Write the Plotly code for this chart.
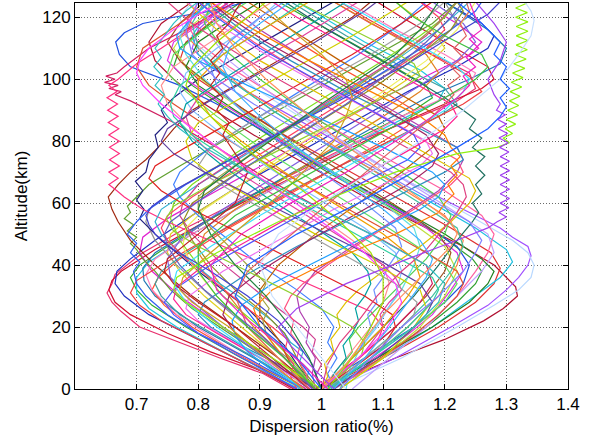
import plotly.graph_objects as go

# Each profile: list of [altitude_km, dispersion_ratio] knots
LEFT_FIRST = [
    [[0,.95],[5,.905],[10,.835],[15,.77],[20,.705],[25,.675],[28,.66],[31,.652],[34,.66],[37,.665],[41,.69],[44,.71],[52,.78],[60,.86],[70,.96],[80,1.06],[88,1.16],[93,1.22],[97,1.25],[102,1.24],[110,1.16],[118,1.08],[125,1.02]],
    [[0,.955],[6,.9],[12,.82],[18,.75],[24,.69],[28,.665],[32,.655],[35,.66],[38,.675],[45,.73],[55,.82],[65,.92],[75,1.02],[85,1.12],[92,1.2],[97,1.26],[100,1.28],[104,1.27],[112,1.2],[120,1.13],[125,1.09]],
    [[0,.96],[8,.88],[16,.8],[24,.72],[30,.68],[34,.665],[38,.668],[42,.69],[48,.73],[56,.79],[66,.87],[76,.96],[86,1.05],[96,1.14],[104,1.22],[110,1.27],[114,1.28],[118,1.26],[125,1.2]],
    [[0,.97],[10,.87],[20,.78],[27,.725],[32,.7],[36,.69],[40,.705],[46,.75],[56,.83],[66,.92],[76,1.01],[84,1.09],[90,1.15],[94,1.18],[98,1.17],[106,1.1],[116,1.01],[125,.93]],
    [[0,.965],[10,.86],[20,.765],[26,.72],[31,.7],[36,.7],[41,.72],[50,.79],[60,.88],[70,.97],[80,1.06],[88,1.14],[93,1.19],[97,1.2],[103,1.16],[112,1.07],[125,.96]],
    [[0,.975],[10,.89],[20,.8],[30,.73],[35,.712],[39,.71],[44,.73],[54,.81],[64,.9],[74,.99],[84,1.08],[94,1.17],[100,1.24],[105,1.29],[110,1.3],[116,1.27],[125,1.2]],
    [[0,.97],[10,.875],[20,.79],[27,.745],[32,.725],[36,.735],[42,.77],[52,.85],[62,.94],[72,1.03],[80,1.1],[85,1.14],[90,1.15],[96,1.1],[106,1.01],[116,.93],[125,.86]],
    [[0,.98],[10,.92],[20,.84],[30,.77],[38,.725],[44,.705],[49,.71],[55,.75],[64,.83],[74,.92],[84,1.01],[94,1.1],[102,1.18],[108,1.24],[112,1.26],[118,1.22],[125,1.16]],
    [[0,.98],[10,.91],[18,.85],[26,.79],[32,.755],[38,.73],[42,.71],[45,.7],[47,.69],[49,.7],[51,.685],[53,.695],[55,.68],[57,.69],[59,.685],[62,.7],[66,.72],[72,.77],[80,.84],[90,.93],[100,1.02],[110,1.11],[118,1.18],[125,1.22]],
    [[0,.985],[10,.93],[20,.87],[30,.81],[38,.77],[44,.75],[50,.755],[56,.79],[66,.87],[76,.95],[86,1.03],[96,1.11],[104,1.17],[110,1.2],[116,1.18],[125,1.12]],
    [[0,.99],[10,.93],[20,.86],[30,.79],[40,.73],[48,.69],[54,.67],[58,.66],[62,.654],[66,.67],[70,.69],[74,.715],[78,.735],[84,.76],[90,.79],[98,.86],[106,.93],[114,1.0],[120,1.05],[125,1.08]],
    [[0,.99],[10,.945],[20,.88],[30,.82],[40,.765],[48,.73],[54,.715],[58,.72],[64,.76],[74,.85],[84,.94],[94,1.03],[104,1.12],[112,1.19],[118,1.22],[125,1.2]],
    [[0,.97],[12,.86],[24,.765],[32,.725],[37,.715],[42,.73],[50,.79],[60,.88],[70,.97],[80,1.06],[88,1.13],[94,1.2],[98,1.24],[102,1.25],[108,1.2],[116,1.12],[125,1.04]],
    [[0,.99],[8,.96],[14,.94],[20,.91],[26,.88],[32,.84],[38,.8],[44,.765],[48,.74],[52,.72],[55,.705],[58,.712],[61,.7],[64,.71],[67,.698],[70,.715],[74,.72],[78,.735],[82,.73],[86,.75],[90,.74],[94,.76],[100,.8],[108,.87],[116,.94],[125,1.02]],
    [[0,.99],[10,.95],[20,.9],[30,.84],[40,.8],[48,.77],[55,.755],[60,.76],[66,.79],[76,.86],[86,.94],[96,1.02],[106,1.1],[114,1.16],[120,1.2],[125,1.22]],
    [[0,.975],[8,.91],[16,.84],[24,.77],[30,.74],[34,.73],[38,.74],[44,.78],[54,.86],[64,.95],[74,1.05],[82,1.13],[88,1.19],[92,1.22],[97,1.2],[104,1.13],[114,1.04],[125,.95]],
    [[0,.96],[8,.88],[16,.8],[22,.74],[27,.705],[31,.69],[35,.7],[40,.74],[48,.81],[58,.9],[68,.99],[78,1.09],[86,1.17],[92,1.23],[96,1.26],[101,1.24],[110,1.16],[120,1.07],[125,1.03]],
    [[0,.98],[10,.91],[20,.84],[30,.78],[36,.755],[42,.75],[48,.77],[58,.84],[68,.92],[78,1.0],[88,1.08],[98,1.16],[106,1.22],[112,1.25],[118,1.23],[125,1.18]],
    [[0,.985],[10,.94],[20,.89],[30,.85],[38,.82],[44,.8],[50,.81],[58,.86],[68,.94],[78,1.02],[88,1.1],[96,1.16],[102,1.19],[108,1.17],[116,1.1],[125,1.02]],
    [[0,.97],[10,.88],[18,.8],[24,.75],[30,.715],[34,.7],[38,.695],[41,.705],[44,.69],[47,.7],[50,.685],[54,.7],[58,.72],[66,.78],[76,.87],[86,.96],[96,1.05],[106,1.13],[116,1.21],[122,1.25],[125,1.26]],
]
LEFT_COLORS = ["#e8306e","#d01030","#2030c0","#30b030","#20c8e0","#1f77b4","#ff5030","#e020d0","#60a030","#e0d020",
               "#a02810","#909090","#ff80c0","#202080","#80e020","#40a0a0","#f04040","#8060e0","#e08020","#3060f0"]

RIGHT_FIRST = [
    [[0,1.0],[5,1.06],[10,1.12],[16,1.2],[22,1.263],[26,1.295],[30,1.318],[33,1.315],[36,1.3],[40,1.28],[46,1.23],[54,1.15],[62,1.07],[72,.98],[82,.89],[92,.81],[100,.76],[106,.73],[112,.72],[118,.74],[125,.79]],
    [[0,1.01],[10,1.12],[20,1.21],[27,1.27],[32,1.3],[36,1.32],[40,1.335],[43,1.34],[46,1.335],[49,1.31],[52,1.29],[58,1.23],[66,1.15],[76,1.06],[86,.97],[96,.88],[104,.82],[110,.79],[116,.8],[125,.85]],
    [[0,1.02],[10,1.13],[20,1.22],[27,1.28],[32,1.32],[36,1.34],[40,1.345],[44,1.335],[48,1.31],[56,1.24],[66,1.15],[76,1.06],[86,.98],[96,.9],[106,.83],[114,.78],[120,.77],[125,.79]],
    [[0,1.0],[10,1.1],[20,1.19],[28,1.25],[34,1.28],[39,1.29],[44,1.275],[52,1.21],[62,1.12],[72,1.03],[82,.94],[92,.86],[100,.8],[106,.77],[112,.78],[120,.83],[125,.86]],
    [[0,1.0],[10,1.09],[20,1.17],[28,1.22],[34,1.25],[38,1.26],[42,1.245],[50,1.19],[60,1.1],[70,1.01],[80,.93],[90,.85],[98,.79],[104,.76],[110,.77],[118,.82],[125,.87]],
    [[0,1.01],[10,1.1],[20,1.18],[30,1.25],[36,1.29],[41,1.31],[45,1.3],[52,1.25],[60,1.18],[70,1.09],[80,1.0],[90,.92],[100,.85],[108,.8],[114,.79],[120,.81],[125,.84]],
    [[0,.99],[10,1.07],[20,1.15],[28,1.2],[34,1.23],[40,1.24],[46,1.22],[54,1.16],[64,1.07],[74,.98],[84,.9],[92,.83],[98,.77],[104,.69],[108,.672],[112,.666],[115,.68],[118,.71],[120,.76],[122,.82],[125,.88]],
    [[0,1.0],[8,1.07],[16,1.13],[24,1.18],[32,1.21],[38,1.23],[44,1.22],[52,1.17],[62,1.09],[72,1.0],[82,.92],[92,.84],[100,.78],[106,.75],[112,.76],[120,.82],[125,.86]],
    [[0,1.02],[10,1.1],[20,1.17],[30,1.22],[38,1.25],[44,1.27],[50,1.28],[56,1.26],[64,1.2],[74,1.11],[84,1.02],[94,.93],[104,.85],[112,.8],[118,.78],[125,.8]],
    [[0,1.01],[10,1.08],[20,1.14],[30,1.19],[40,1.22],[48,1.23],[56,1.2],[66,1.12],[76,1.04],[86,.96],[96,.88],[106,.82],[114,.78],[120,.79],[125,.82]],
    [[0,1.0],[10,1.05],[20,1.1],[30,1.15],[40,1.19],[48,1.22],[54,1.245],[57,1.255],[60,1.245],[63,1.26],[66,1.25],[69,1.265],[72,1.25],[75,1.265],[78,1.245],[81,1.26],[84,1.24],[87,1.25],[90,1.23],[94,1.2],[100,1.15],[108,1.08],[116,1.01],[125,.94]],
    [[0,1.03],[10,1.1],[20,1.16],[30,1.2],[38,1.22],[46,1.2],[56,1.13],[66,1.05],[76,.97],[86,.9],[96,.83],[104,.78],[110,.76],[116,.78],[125,.84]],
    [[0,1.0],[10,1.06],[20,1.12],[30,1.17],[38,1.2],[44,1.21],[50,1.19],[58,1.13],[68,1.05],[78,.97],[88,.89],[98,.82],[106,.77],[112,.75],[118,.77],[125,.81]],
    [[0,1.05],[10,1.11],[20,1.17],[30,1.22],[38,1.26],[44,1.28],[50,1.27],[58,1.21],[68,1.13],[78,1.05],[88,.97],[98,.9],[106,.85],[114,.82],[120,.83],[125,.86]],
    [[0,1.01],[10,1.08],[20,1.15],[28,1.2],[34,1.22],[40,1.2],[48,1.14],[58,1.06],[68,.98],[78,.9],[88,.83],[96,.78],[102,.75],[108,.76],[116,.81],[125,.88]],
    [[0,1.0],[10,1.09],[20,1.18],[28,1.24],[34,1.27],[38,1.28],[42,1.26],[50,1.2],[60,1.11],[70,1.02],[80,.94],[90,.86],[98,.8],[104,.78],[112,.8],[120,.86],[125,.9]],
    [[0,.99],[10,1.06],[20,1.12],[28,1.16],[34,1.18],[40,1.17],[48,1.1],[58,1.0],[68,.91],[78,.83],[86,.76],[90,.72],[93,.69],[95,.665],[96,.675],[97,.655],[98,.67],[99,.648],[100,.665],[101,.65],[102,.668],[104,.68],[107,.7],[110,.72],[116,.78],[125,.86]],
    [[0,1.0],[8,1.05],[15,1.09],[20,1.1],[25,1.08],[32,1.0],[40,.91],[48,.82],[54,.75],[58,.71],[62,.68],[64,.668],[66,.655],[68,.67],[70,.655],[72,.672],[74,.656],[76,.672],[78,.656],[80,.672],[82,.655],[84,.671],[86,.654],[88,.67],[90,.653],[92,.669],[94,.652],[96,.668],[98,.655],[100,.67],[105,.7],[110,.74],[118,.8],[125,.85]],
    [[0,1.02],[8,1.08],[16,1.14],[24,1.19],[30,1.22],[34,1.23],[38,1.22],[44,1.17],[54,1.08],[64,.99],[74,.9],[84,.82],[92,.76],[98,.72],[104,.7],[110,.71],[118,.77],[125,.82]],
    [[0,1.01],[10,1.07],[20,1.13],[30,1.18],[38,1.21],[46,1.23],[52,1.22],[60,1.16],[70,1.08],[80,1.0],[90,.92],[100,.85],[110,.8],[118,.79],[125,.81]],
]
RIGHT_COLORS = ["#b01030","#a050ff","#b8d8ff","#e03030","#30a030","#20c0e0","#2050e0","#e030e0","#ff60a0","#ff8040",
                "#207060","#c0e040","#a05020","#c0a0ff","#60e060","#208020","#d02060","#ff3080","#e05030","#40c0a0"]

LATE_RIGHT = [
    [[0,1.0],[10,.92],[20,.84],[28,.78],[32,.76],[36,.765],[44,.83],[54,.93],[62,1.02],[70,1.12],[76,1.22],[78,1.285],[79.5,1.305],[81,1.295],[82.5,1.31],[84,1.298],[85.5,1.315],[87,1.3],[88.5,1.318],[90,1.302],[91.5,1.32],[93,1.305],[94.5,1.322],[96,1.306],[97.5,1.325],[99,1.308],[100.5,1.327],[102,1.31],[103.5,1.33],[105,1.312],[106.5,1.332],[108,1.314],[109.5,1.334],[111,1.316],[112.5,1.335],[114,1.316],[115.5,1.335],[117,1.316],[118.5,1.335],[120,1.315],[121.5,1.334],[123,1.315],[124.5,1.333],[126,1.315]],
    [[0,1.02],[8,.98],[14,.95],[20,.93],[26,.96],[34,1.04],[42,1.14],[48,1.22],[52,1.27],[54,1.285],[55.5,1.3],[57,1.288],[58.5,1.304],[60,1.29],[61.5,1.305],[63,1.29],[64.5,1.305],[66,1.29],[67.5,1.305],[69,1.29],[70.5,1.305],[72,1.29],[73.5,1.305],[75,1.29],[76.5,1.304],[78,1.289],[79.5,1.303],[81,1.288],[82.5,1.302],[84,1.287],[85.5,1.3],[87,1.286],[88.5,1.298],[90,1.284],[92,1.29],[95,1.28],[100,1.27],[106,1.29],[112,1.3],[118,1.28],[125,1.25]],
    [[0,1.04],[10,1.0],[20,.96],[30,.92],[40,.9],[50,.93],[60,1.0],[70,1.08],[80,1.16],[90,1.23],[100,1.29],[108,1.32],[114,1.34],[119,1.345],[122,1.34],[125,1.33]],
    [[0,1.0],[10,.96],[20,.9],[30,.86],[40,.88],[50,.96],[60,1.06],[70,1.15],[78,1.22],[84,1.27],[88,1.29],[91,1.3],[94,1.29],[97,1.305],[100,1.29],[104,1.3],[108,1.28],[112,1.29],[116,1.27],[120,1.25],[125,1.22]],
    [[0,1.01],[8,.97],[16,.92],[24,.87],[32,.83],[40,.82],[50,.87],[60,.95],[70,1.04],[80,1.12],[88,1.18],[94,1.22],[98,1.24],[101,1.23],[104,1.25],[107,1.235],[110,1.255],[113,1.24],[116,1.26],[120,1.25],[125,1.24]],
    [[0,.99],[10,.94],[20,.88],[30,.83],[38,.8],[46,.8],[56,.86],[66,.95],[76,1.04],[86,1.13],[94,1.2],[100,1.25],[104,1.27],[108,1.26],[114,1.2],[120,1.15],[125,1.12]],
]
LATE_COLORS = ["#90f010","#a040f0","#c8e0ff","#2060ff","#f020c0","#40c040"]

CENTER = [
    [[0,.985],[3,.975],[6,.98],[9,.965],[12,.97],[15,.95],[18,.94],[22,.92],[28,.88],[36,.82],[44,.77],[50,.74],[54,.73],[58,.74],[66,.8],[76,.88],[86,.96],[96,1.04],[106,1.12],[116,1.19],[125,1.24]],
    [[0,1.0],[4,.99],[8,1.0],[12,.985],[16,.99],[20,.97],[26,.93],[34,.88],[42,.83],[50,.79],[56,.77],[60,.775],[66,.8],[74,.86],[84,.94],[94,1.02],[104,1.1],[114,1.17],[125,1.22]],
    [[0,1.03],[4,1.04],[8,1.035],[12,1.05],[16,1.045],[20,1.06],[26,1.09],[34,1.13],[42,1.17],[50,1.2],[56,1.21],[62,1.19],[70,1.13],[80,1.05],[90,.97],[100,.9],[110,.84],[118,.81],[125,.82]],
    [[0,.97],[10,.93],[20,.88],[30,.83],[40,.79],[46,.775],[52,.78],[58,.81],[66,.87],[76,.94],[86,1.02],[96,1.1],[106,1.17],[116,1.22],[125,1.25]],
    [[0,1.02],[5,1.01],[10,1.025],[15,1.01],[20,1.02],[26,1.0],[32,.96],[40,.9],[48,.85],[56,.8],[62,.77],[66,.76],[70,.77],[78,.82],[88,.9],[98,.98],[108,1.06],[118,1.13],[125,1.17]],
    [[0,1.0],[10,1.04],[20,1.08],[28,1.1],[34,1.11],[40,1.1],[48,1.05],[58,.98],[68,.9],[78,.83],[86,.78],[92,.75],[98,.74],[104,.76],[112,.82],[120,.88],[125,.92]],
    [[0,.995],[6,.97],[12,.955],[18,.94],[24,.91],[32,.86],[40,.82],[48,.79],[54,.775],[60,.79],[68,.85],[78,.93],[88,1.01],[98,1.09],[108,1.16],[116,1.21],[122,1.23],[125,1.22]],
    [[0,1.04],[6,1.045],[12,1.06],[18,1.08],[24,1.1],[32,1.13],[40,1.15],[46,1.16],[52,1.15],[60,1.1],[70,1.02],[80,.94],[90,.87],[100,.81],[108,.78],[114,.77],[120,.79],[125,.82]],
    [[0,.99],[5,.985],[10,.99],[15,.975],[20,.98],[25,.965],[30,.96],[38,.99],[46,1.05],[56,1.13],[64,1.19],[70,1.22],[74,1.23],[78,1.22],[86,1.15],[96,1.06],[106,.98],[116,.9],[125,.84]],
    [[0,.96],[4,.95],[8,.955],[12,.94],[16,.945],[20,.92],[26,.88],[34,.83],[42,.78],[48,.75],[52,.74],[56,.75],[62,.79],[72,.87],[82,.95],[92,1.03],[102,1.11],[110,1.17],[116,1.2],[120,1.19],[125,1.16]],
    [[0,1.005],[10,1.05],[20,1.09],[30,1.12],[38,1.13],[44,1.12],[52,1.07],[62,.99],[72,.91],[82,.84],[90,.79],[96,.77],[102,.78],[110,.83],[118,.89],[125,.93]],
    [[0,.98],[8,.95],[16,.93],[24,.9],[32,.9],[40,.93],[50,.99],[60,1.06],[70,1.13],[78,1.18],[84,1.2],[88,1.19],[96,1.12],[106,1.03],[116,.95],[125,.88]],
    [[0,1.0],[4,1.01],[8,1.005],[12,1.02],[16,1.015],[20,1.03],[24,1.025],[28,1.04],[32,1.06],[38,1.1],[46,1.16],[54,1.21],[60,1.24],[64,1.25],[68,1.24],[76,1.17],[86,1.08],[96,.99],[106,.9],[116,.83],[125,.78]],
    [[0,1.01],[5,1.02],[10,1.04],[14,1.035],[18,1.05],[22,1.06],[26,1.055],[30,1.07],[34,1.08],[38,1.075],[44,1.05],[52,.99],[62,.91],[72,.84],[80,.79],[86,.77],[92,.78],[100,.84],[110,.92],[120,1.0],[125,1.04]],
    [[0,.98],[5,.975],[10,.96],[14,.965],[18,.95],[22,.955],[26,.94],[30,.95],[34,.97],[40,1.01],[48,1.07],[58,1.15],[66,1.21],[70,1.23],[74,1.22],[82,1.15],[92,1.06],[102,.97],[112,.89],[125,.8]],
    [[0,1.0],[6,1.03],[12,1.06],[16,1.07],[20,1.08],[24,1.075],[28,1.09],[32,1.085],[36,1.1],[40,1.11],[46,1.13],[52,1.12],[60,1.07],[70,1.0],[80,.93],[90,.87],[98,.83],[104,.82],[112,.85],[120,.9],[125,.94]],
    [[0,.99],[6,.96],[12,.93],[18,.91],[22,.905],[26,.915],[30,.9],[34,.91],[38,.89],[44,.86],[52,.82],[58,.8],[62,.8],[68,.83],[78,.9],[88,.98],[98,1.06],[108,1.13],[118,1.19],[125,1.22]],
    [[0,1.02],[4,1.03],[8,1.05],[12,1.07],[16,1.085],[20,1.1],[24,1.095],[28,1.11],[32,1.13],[36,1.12],[40,1.1],[48,1.04],[58,.96],[68,.88],[76,.82],[82,.79],[88,.78],[94,.8],[104,.88],[114,.97],[125,1.06]],
]
CENTER_COLORS = ["#30b0d0","#d04090","#50d050","#f0f060","#4080ff","#ff9090","#909020","#60e0e0","#b040b0","#ff4060","#80c0ff","#c06000",
                 "#e0c000","#00a0a0","#ff5080","#7090ff","#a0a040","#e040a0"]

EARLY_TURN = [
    [[0,1.0],[8,1.06],[14,1.1],[20,1.12],[24,1.115],[30,1.07],[40,.97],[50,.87],[58,.79],[64,.74],[68,.72],[72,.73],[78,.78],[88,.87],[98,.96],[108,1.05],[118,1.13],[125,1.18]],
    [[0,.99],[8,.93],[14,.87],[20,.82],[24,.8],[28,.81],[36,.87],[46,.96],[56,1.06],[64,1.14],[70,1.2],[74,1.23],[78,1.22],[86,1.14],[96,1.04],[106,.95],[116,.87],[125,.81]],
    [[0,.985],[8,.92],[16,.85],[22,.8],[26,.78],[30,.785],[38,.84],[48,.93],[58,1.02],[66,1.1],[72,1.16],[76,1.18],[80,1.17],[88,1.1],[98,1.0],[108,.91],[118,.83],[125,.78]],
    [[0,1.01],[10,1.07],[18,1.12],[24,1.15],[28,1.155],[34,1.12],[44,1.03],[54,.94],[62,.87],[68,.82],[72,.8],[78,.82],[88,.9],[98,.99],[108,1.08],[118,1.16],[125,1.2]],
    [[0,1.03],[10,1.1],[20,1.15],[26,1.17],[32,1.16],[40,1.09],[50,.99],[60,.9],[68,.83],[74,.79],[80,.78],[86,.8],[94,.87],[104,.96],[114,1.05],[125,1.14]],
    [[0,.96],[10,.87],[18,.8],[24,.76],[28,.745],[32,.76],[40,.82],[50,.91],[60,1.0],[68,1.08],[74,1.14],[78,1.16],[82,1.15],[90,1.08],[100,.99],[110,.9],[120,.83],[125,.8]],
    [[0,.975],[10,.9],[18,.83],[24,.78],[29,.76],[33,.765],[40,.81],[50,.9],[60,.99],[70,1.08],[78,1.15],[84,1.2],[88,1.22],[92,1.21],[100,1.14],[110,1.05],[120,.96],[125,.92]],
    [[0,1.015],[10,1.08],[20,1.14],[28,1.18],[32,1.19],[36,1.18],[44,1.11],[54,1.02],[64,.93],[74,.85],[82,.79],[88,.76],[92,.755],[98,.77],[108,.84],[118,.92],[125,.97]],
    [[0,.99],[6,.94],[12,.9],[18,.86],[24,.84],[30,.85],[38,.9],[48,.98],[58,1.07],[66,1.14],[72,1.18],[76,1.19],[82,1.17],[92,1.09],[102,1.0],[112,.91],[120,.85],[125,.82]],
    [[0,1.02],[10,1.09],[18,1.14],[24,1.17],[28,1.18],[34,1.16],[42,1.09],[52,.99],[62,.89],[70,.81],[76,.76],[80,.74],[84,.75],[92,.81],[102,.9],[112,.99],[122,1.07],[125,1.09]],
    [[0,.97],[10,.9],[20,.83],[28,.78],[34,.76],[38,.765],[46,.82],[56,.9],[66,.99],[76,1.08],[84,1.15],[90,1.2],[96,1.23],[100,1.24],[104,1.22],[112,1.15],[122,1.06],[125,1.03]],
    [[0,1.0],[10,1.05],[20,1.1],[30,1.14],[36,1.16],[42,1.15],[50,1.1],[60,1.02],[70,.94],[80,.87],[88,.82],[94,.8],[100,.8],[108,.84],[118,.92],[125,.98]],
]
EARLY_COLORS = ["#e02020","#3090c0","#f070f0","#a0a0a0","#d0d000","#5050ff","#ff2090","#30d0a0","#a02060","#6040a0","#40e0ff","#f0a000"]

MIXED = [
    [[0,1.0],[8,.985],[15,.96],[22,.93],[30,.88],[38,.82],[45,.76],[50,.73],[53,.72],[56,.715],[59,.725],[64,.76],[75,.86],[90,1.0],[105,1.14],[115,1.22],[121,1.27],[125,1.29]],
    [[0,1.0],[8,1.01],[15,1.03],[22,1.06],[30,1.09],[38,1.13],[45,1.17],[52,1.2],[57,1.22],[62,1.235],[66,1.23],[70,1.21],[80,1.12],[90,1.02],[100,.93],[110,.85],[118,.79],[125,.75]],
    [[0,.97],[6,.92],[12,.88],[17,.86],[22,.855],[27,.87],[34,.92],[44,1.02],[52,1.1],[58,1.16],[62,1.19],[66,1.2],[70,1.18],[78,1.1],[88,.99],[98,.88],[106,.8],[110,.77],[114,.765],[120,.79],[125,.82]],
    [[0,1.0],[6,1.04],[11,1.065],[15,1.07],[20,1.05],[28,.98],[38,.88],[46,.8],[51,.76],[55,.748],[59,.76],[66,.82],[78,.94],[90,1.06],[97,1.13],[101,1.16],[105,1.15],[112,1.09],[120,1.01],[125,.96]],
    [[0,.98],[10,.92],[20,.86],[28,.8],[34,.76],[38,.745],[42,.75],[50,.8],[60,.86],[70,.88],[76,.86],[82,.84],[86,.85],[90,.83],[94,.84],[98,.82],[102,.835],[106,.82],[110,.84],[114,.83],[118,.85],[122,.86],[125,.87]],
    [[0,1.01],[10,1.08],[20,1.15],[28,1.19],[34,1.2],[40,1.17],[50,1.08],[60,.98],[70,.88],[78,.81],[84,.77],[88,.75],[92,.735],[95,.745],[98,.73],[101,.742],[104,.728],[107,.74],[110,.73],[114,.745],[118,.76],[122,.78],[125,.8]],
    [[0,.99],[10,.94],[20,.9],[26,.89],[32,.92],[40,1.0],[46,1.07],[50,1.12],[54,1.16],[57,1.19],[60,1.2],[63,1.215],[66,1.205],[69,1.22],[72,1.21],[75,1.225],[78,1.21],[82,1.2],[88,1.16],[96,1.08],[106,.98],[116,.89],[125,.82]],
    [[0,1.03],[10,1.08],[20,1.13],[30,1.19],[38,1.23],[44,1.25],[48,1.26],[54,1.24],[62,1.17],[72,1.08],[80,1.0],[86,.94],[92,.89],[100,.83],[108,.79],[116,.78],[125,.8]],
    [[0,.97],[10,.91],[20,.85],[28,.79],[32,.77],[36,.775],[44,.82],[54,.88],[64,.94],[72,.98],[80,1.02],[88,1.04],[94,1.05],[100,1.04],[108,1.0],[116,.95],[125,.9]],
    [[0,1.0],[10,1.06],[18,1.1],[24,1.12],[28,1.13],[34,1.12],[44,1.07],[54,1.0],[64,.93],[74,.86],[84,.79],[92,.74],[98,.71],[102,.7],[106,.705],[110,.72],[116,.76],[122,.81],[125,.84]],
    [[0,1.0],[10,.98],[20,.95],[30,.91],[40,.86],[50,.82],[58,.8],[64,.81],[72,.86],[82,.93],[92,1.0],[100,1.06],[108,1.12],[116,1.16],[125,1.19]],
    [[0,1.02],[10,1.07],[20,1.11],[28,1.14],[36,1.17],[42,1.18],[48,1.16],[58,1.1],[68,1.03],[78,.96],[88,.9],[96,.86],[104,.84],[110,.85],[118,.9],[125,.95]],
    [[0,.98],[10,.93],[20,.88],[30,.86],[38,.88],[48,.94],[58,1.0],[68,1.06],[78,1.12],[86,1.17],[92,1.2],[95,1.215],[98,1.205],[101,1.225],[104,1.21],[107,1.23],[110,1.215],[114,1.235],[118,1.225],[122,1.24],[125,1.235]],
    [[0,1.01],[10,1.05],[20,1.08],[28,1.1],[36,1.1],[44,1.08],[54,1.03],[64,.97],[74,.9],[84,.84],[92,.8],[98,.78],[104,.79],[112,.83],[120,.88],[125,.91]],
    [[0,.985],[8,.95],[16,.91],[24,.86],[32,.81],[40,.77],[46,.75],[50,.745],[54,.755],[62,.81],[72,.88],[82,.96],[92,1.04],[102,1.11],[112,1.17],[120,1.21],[125,1.23]],
    [[0,1.0],[8,1.04],[16,1.07],[24,1.1],[32,1.14],[40,1.18],[46,1.21],[50,1.22],[54,1.21],[60,1.17],[70,1.1],[80,1.03],[90,.97],[100,.91],[110,.86],[118,.83],[125,.82]],
]
MIXED_COLORS = ["#4040d0","#e04080","#20a0ff","#90d030","#c02020","#30c0c0","#ff8000","#8080ff",
                "#d0a020","#ff40ff","#208040","#40b0ff","#e06060","#a0e000","#6060c0","#ff9060"]

X_TICKS = [0.7, 0.8, 0.9, 1.0, 1.1, 1.2, 1.3, 1.4]
X_TICK_TEXT = ["0.7", "0.8", "0.9", "1", "1.1", "1.2", "1.3", "1.4"]
Y_TICKS = [0, 20, 40, 60, 80, 100, 120]

fig = go.Figure()
for group, colors in [(LEFT_FIRST, LEFT_COLORS), (RIGHT_FIRST, RIGHT_COLORS),
                      (CENTER, CENTER_COLORS), (EARLY_TURN, EARLY_COLORS),
                      (MIXED, MIXED_COLORS), (LATE_RIGHT, LATE_COLORS)]:
    for line, col in zip(group, colors):
        fig.add_trace(go.Scatter(
            x=[p[1] for p in line], y=[p[0] for p in line],
            mode="lines", line=dict(color=col, width=1.2),
            showlegend=False, hoverinfo="skip"))

font = dict(family="Liberation Sans, Arial, sans-serif", size=17, color="black")
axis_common = dict(showline=True, linecolor="black", linewidth=1, mirror="ticks",
                   ticks="inside", ticklen=5, tickcolor="black",
                   showgrid=True, gridcolor="#6a6a6a", griddash="1px,2px", gridwidth=1,
                   zeroline=False, tickfont=font)
fig.update_xaxes(range=[0.6, 1.4], tickvals=X_TICKS, ticktext=X_TICK_TEXT,
                 title=dict(text="Dispersion ratio(%)", font=font, standoff=6),
                 **axis_common)
fig.update_yaxes(range=[0, 124.6], tickvals=Y_TICKS,
                 title=dict(text="Altitude(km)", font=font, standoff=10),
                 **axis_common)
fig.update_layout(width=593, height=443, margin=dict(l=75, r=25, t=3, b=54, autoexpand=False),
                  plot_bgcolor="white", paper_bgcolor="white", font=font)
fig.write_html("out.html")
